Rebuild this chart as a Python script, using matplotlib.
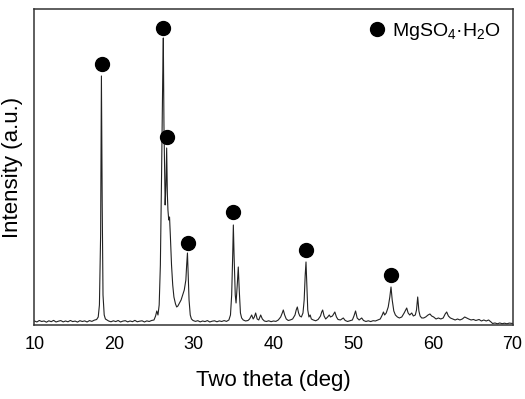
import matplotlib
matplotlib.use("Agg")
import matplotlib.pyplot as plt

plt.rcParams['font.family'] = ['Liberation Sans', 'DejaVu Sans']
plt.rcParams['mathtext.fontset'] = 'custom'
plt.rcParams['mathtext.rm'] = 'Liberation Sans'
plt.rcParams['mathtext.default'] = 'regular'

# XRD pattern: 2-theta (deg) and intensity (a.u.)
two_theta = [
    10.0, 10.3, 10.6, 10.9, 11.2, 11.5, 11.8, 12.1, 12.4, 12.7, 13.0, 13.3, 13.6, 13.9,
    14.2, 14.5, 14.8, 15.1, 15.4, 15.7, 16.0, 16.3, 16.6, 16.9, 17.2, 17.5, 17.8, 18.0,
    18.15, 18.3, 18.4, 18.5, 18.6, 18.75, 18.9, 19.1, 19.3, 19.6, 19.9, 20.2, 20.5, 20.8,
    21.1, 21.4, 21.7, 22.0, 22.3, 22.6, 22.9, 23.2, 23.5, 23.8, 24.1, 24.4, 24.7, 25.0,
    25.2, 25.35, 25.5, 25.65, 25.8, 25.95, 26.1, 26.17, 26.25, 26.4, 26.5, 26.59, 26.68,
    26.75, 26.85, 26.95, 27.05, 27.2, 27.35, 27.5, 27.7, 27.85, 28.0, 28.2, 28.4, 28.6,
    28.8, 29.0, 29.1, 29.2, 29.3, 29.4, 29.55, 29.7, 29.9, 30.2, 30.5, 30.8, 31.1, 31.4,
    31.7, 32.0, 32.3, 32.6, 32.9, 33.2, 33.5, 33.8, 34.1, 34.4, 34.6, 34.75, 34.88, 34.96,
    35.05, 35.2, 35.3, 35.45, 35.58, 35.7, 35.85, 36.0, 36.2, 36.5, 36.8, 37.0, 37.26,
    37.45, 37.6, 37.76, 37.95, 38.15, 38.39, 38.6, 38.85, 39.1, 39.4, 39.7, 40.0, 40.3,
    40.6, 40.9, 41.1, 41.23, 41.4, 41.6, 41.85, 42.1, 42.4, 42.7, 42.85, 42.99, 43.15,
    43.3, 43.5, 43.7, 43.85, 43.98, 44.08, 44.18, 44.3, 44.45, 44.6, 44.75, 45.0, 45.3,
    45.6, 45.9, 46.05, 46.17, 46.35, 46.55, 46.8, 47.0, 47.15, 47.4, 47.7, 47.9, 48.1,
    48.4, 48.76, 49.0, 49.3, 49.6, 49.9, 50.1, 50.3, 50.5, 50.75, 51.07, 51.3, 51.6,
    51.9, 52.2, 52.5, 52.8, 53.1, 53.4, 53.65, 53.8, 53.95, 54.15, 54.4, 54.6, 54.75,
    54.9, 55.1, 55.3, 55.55, 55.8, 56.1, 56.4, 56.6, 56.72, 56.9, 57.1, 57.35, 57.55,
    57.8, 57.95, 58.1, 58.25, 58.4, 58.6, 58.85, 59.1, 59.4, 59.64, 59.85, 60.1, 60.4,
    60.7, 61.0, 61.3, 61.55, 61.74, 61.95, 62.2, 62.5, 62.8, 63.1, 63.4, 63.7, 64.0,
    64.25, 64.5, 64.8, 65.1, 65.4, 65.8, 66.1, 66.4, 66.7, 67.0, 67.3, 67.5, 67.8, 68.1,
    68.4, 68.7, 69.0, 69.3, 69.6, 70.0,
]
intensity = [
    4.0, 3.0, 4.5, 3.5, 4.0, 2.8, 4.2, 3.3, 4.6, 3.0, 3.8, 4.4, 3.1, 4.0,
    3.2, 4.5, 3.4, 3.9, 2.9, 4.3, 3.5, 4.1, 3.0, 4.4, 3.6, 4.8, 5.5, 8.0,
    20.0, 90.0, 249.0, 120.0, 30.0, 10.0, 6.0, 5.0, 4.0, 3.2, 4.2, 3.4, 4.5, 3.0,
    3.9, 4.3, 3.1, 4.0, 3.3, 4.6, 3.2, 3.8, 4.2, 3.0, 4.1, 3.5, 4.5, 5.0,
    9.0, 14.0, 10.0, 20.0, 60.0, 150.0, 250.0, 287.0, 200.0, 120.0, 140.0, 177.0, 130.0,
    115.0, 105.0, 108.0, 90.0, 60.0, 40.0, 28.0, 21.0, 18.0, 19.0, 22.0, 25.0, 30.0,
    35.0, 45.0, 60.0, 72.0, 50.0, 25.0, 10.0, 6.0, 4.5, 3.6, 4.3, 3.1, 4.0, 3.4,
    4.4, 3.0, 3.8, 4.2, 3.2, 4.1, 3.5, 4.4, 3.6, 5.0, 10.0, 30.0, 70.0, 100.0,
    70.0, 30.0, 22.0, 40.0, 58.0, 35.0, 12.0, 7.0, 5.0, 4.0, 4.5, 6.0, 10.0,
    6.0, 8.0, 12.0, 6.0, 5.0, 10.0, 6.0, 4.0, 3.5, 4.2, 3.3, 4.0, 3.6,
    5.0, 8.0, 12.0, 15.0, 10.0, 6.0, 4.5, 5.0, 6.0, 10.0, 15.0, 18.0, 12.0,
    9.0, 8.0, 12.0, 25.0, 50.0, 63.0, 40.0, 15.0, 8.0, 10.0, 6.0, 5.0, 4.2,
    5.5, 9.0, 13.0, 15.0, 9.0, 6.0, 8.0, 10.0, 8.0, 9.0, 13.0, 8.0, 5.5,
    5.0, 7.0, 4.5, 3.5, 4.2, 5.0, 9.0, 14.0, 7.0, 5.0, 7.0, 4.5, 3.5,
    4.2, 3.4, 4.3, 4.0, 5.0, 6.0, 10.0, 13.0, 10.0, 12.0, 18.0, 28.0, 38.0,
    25.0, 14.0, 10.0, 8.0, 7.0, 8.0, 12.0, 15.0, 17.0, 12.0, 10.0, 12.0, 9.0,
    10.0, 15.0, 28.0, 14.0, 9.0, 7.0, 7.0, 8.0, 10.0, 11.0, 9.0, 8.0, 6.0,
    7.0, 6.0, 7.0, 11.0, 13.0, 9.0, 7.0, 6.0, 5.0, 6.0, 5.0, 6.0, 8.0,
    7.0, 6.0, 5.0, 5.5, 4.5, 5.5, 4.0, 5.0, 4.0, 5.0, 3.0, 1.5, 2.0, 1.2,
    2.0, 1.3, 1.8, 1.2, 1.9, 1.5,
]

# MgSO4·H2O marker positions (2-theta, marker height)
marker_theta = [18.43, 26.17, 26.59, 29.23, 34.96, 44.08, 54.75]
marker_height = [261, 297, 188, 82, 112.5, 75, 49.5]

x_ticks = [10, 20, 30, 40, 50, 60, 70]

fig = plt.figure(figsize=(5.25, 3.99), dpi=100)
ax = fig.add_axes([0.0657, 0.1855, 0.9105, 0.792])

ax.plot(two_theta, intensity, color='#222222', lw=0.8)
ax.plot(marker_theta, marker_height, 'o', color='black', ms=10, ls='none',
        label='MgSO$_4$·H$_2$O')

ax.set_xlim(10, 70)
ax.set_ylim(0, 316)
ax.set_xticks(x_ticks)
ax.set_yticks([])
ax.tick_params(axis='x', length=0, pad=8, labelsize=13)
for s in ax.spines.values():
    s.set_linewidth(1.1)
    s.set_color('#333333')

ax.set_xlabel('Two theta (deg)', fontsize=16, labelpad=12.5)
ax.set_ylabel('Intensity (a.u.)', fontsize=16, labelpad=8)

ax.legend(loc='upper right', frameon=False, fontsize=14, handlelength=0.8,
          handletextpad=0.4, borderaxespad=0.2, markerscale=1.0)

fig.savefig('out.png', dpi=100)
